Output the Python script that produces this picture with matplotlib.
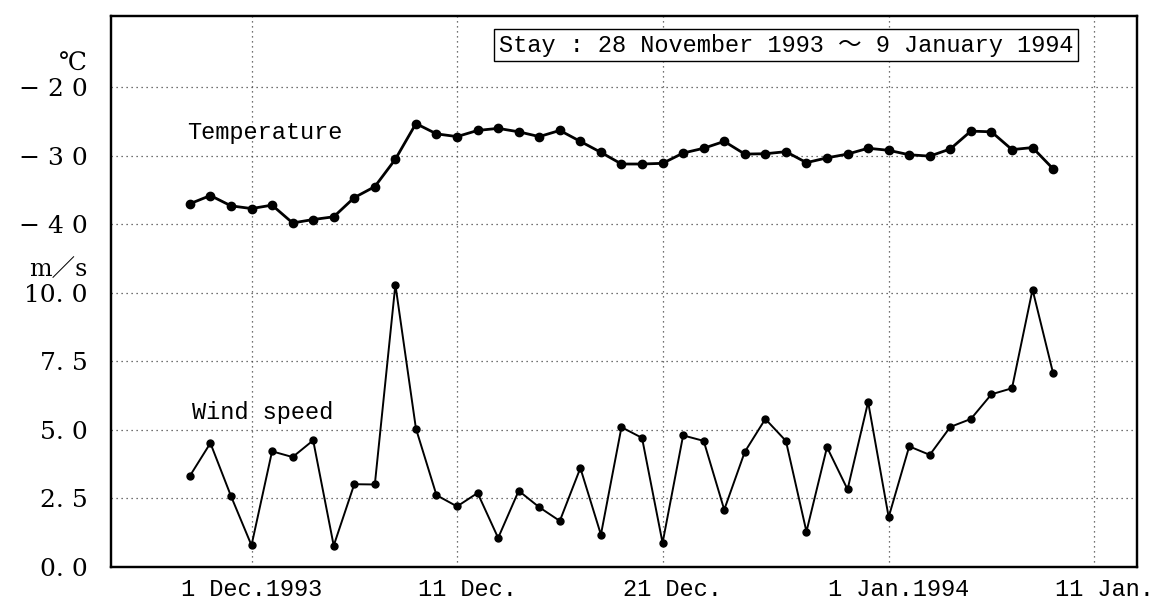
"""
Stay weather record: daily temperature and wind speed,
28 November 1993 - 9 January 1994.
"""

import matplotlib
matplotlib.use("Agg")
import matplotlib.pyplot as plt
import matplotlib.transforms as mtransforms
import pandas as pd


# one reading per day
dates = pd.date_range("1993-11-28", "1994-01-09", freq="D")

temperature = [-37.0, -35.8, -37.3, -37.7, -37.2, -39.8, -39.3, -38.9, -36.1, -34.5,
               -30.5, -25.3, -26.8, -27.2, -26.3, -26.0, -26.5, -27.2, -26.3, -27.9,
               -29.5, -31.2, -31.2, -31.1, -29.6, -28.9, -27.9, -29.75, -29.7, -29.4,
               -31.0, -30.3, -29.75, -28.9, -29.2, -29.85, -30.05, -29.0, -26.4, -26.5,
               -29.1, -28.8, -31.9]

wind_speed = [3.32, 4.52, 2.59, 0.79, 4.22, 4.01, 4.62, 0.78, 3.02, 3.01,
              10.3, 5.05, 2.62, 2.21, 2.70, 1.06, 2.78, 2.18, 1.68, 3.61,
              1.18, 5.10, 4.71, 0.88, 4.80, 4.60, 2.09, 4.20, 5.40, 4.60,
              1.29, 4.37, 2.83, 6.02, 1.82, 4.40, 4.09, 5.11, 5.40, 6.30,
              6.52, 10.12, 7.07]

x_ticks = pd.to_datetime(["1993-12-01", "1993-12-11", "1993-12-21",
                          "1994-01-01", "1994-01-11"])
x_labels = ["1 Dec.1993", "11 Dec.", "21 Dec.", "1 Jan.1994", "11 Jan."]

wind_ticks = [0, 2.5, 5, 7.5, 10]
wind_labels = ["0. 0", "2. 5", "5. 0", "7. 5", "10. 0"]
temp_ticks = [-40, -30, -20]
temp_labels = ["− 4 0", "− 3 0", "− 2 0"]

MONO = ["Liberation Mono", "Noto Sans CJK JP", "DejaVu Sans"]
SERIF = ["DejaVu Serif", "DejaVu Sans", "Noto Sans CJK JP"]
GRID = dict(color="#444444", linestyle=(0, (1, 3)), linewidth=0.9)


fig = plt.figure(figsize=(11.52, 6.03), dpi=100)
ax = fig.add_axes([0.0964, 0.0597, 0.8906, 0.9138])

# wind speed on the lower part of the frame
ax.plot(dates, wind_speed, color="black", lw=1.4, marker="o", ms=5, zorder=3)
ax.set_ylim(0, 20.1)
ax.set_xlim(pd.Timestamp("1993-11-24 04:00"), pd.Timestamp("1994-01-13 02:00"))

# temperature shares the frame, scale placed above the wind scale
ax2 = ax.twinx()
ax2.plot(dates, temperature, color="black", lw=2.0, marker="o", ms=6, zorder=3)
ax2.set_ylim(-90, -9.6)
ax2.yaxis.tick_left()

ax.set_xticks(x_ticks, x_labels, fontsize=17, family=MONO)
ax.set_yticks(wind_ticks, wind_labels, fontsize=18, family=SERIF)
ax2.set_yticks(temp_ticks, temp_labels, fontsize=18, family=SERIF)

ax.tick_params(axis="x", length=0, pad=8)
ax.tick_params(axis="y", length=0, pad=17)
ax2.tick_params(axis="y", length=0, pad=17, left=False, right=False)

# date labels after the first sit a little right of their grid line
shift = mtransforms.ScaledTranslation(0.10, 0, fig.dpi_scale_trans)
for lab in ax.get_xticklabels()[1:]:
    lab.set_transform(lab.get_transform() + shift)

ax.grid(axis="x", **GRID)
ax.yaxis.grid(True, **GRID)
ax.yaxis.get_gridlines()[0].set_visible(False)
ax2.yaxis.grid(True, **GRID)

for a in (ax, ax2):
    for sp in a.spines.values():
        sp.set_linewidth(1.6)
        sp.set_color("black")

# units above each scale
ax.text(-0.0234, 0.913, "℃", transform=ax.transAxes, ha="right", va="center",
        fontsize=18, family=SERIF)
ax.text(-0.0234, 0.539, "m／s", transform=ax.transAxes, ha="right", va="center",
        fontsize=17, family=SERIF)

# series names and stay period
ax.text(0.074, 0.789, "Temperature", transform=ax.transAxes, ha="left",
        va="center", fontsize=17, family=MONO)
ax.text(0.079, 0.281, "Wind speed", transform=ax.transAxes, ha="left",
        va="center", fontsize=17, family=MONO)
ax2.text(0.658, 0.947, "Stay : 28 November 1993 ～ 9 January 1994",
         transform=ax.transAxes, ha="center", va="center", fontsize=17,
         family=MONO, zorder=5,
         bbox=dict(boxstyle="square,pad=0.2", fc="white", ec="black", lw=1.0))

fig.savefig("out.png", dpi=100)
plt.close(fig)
